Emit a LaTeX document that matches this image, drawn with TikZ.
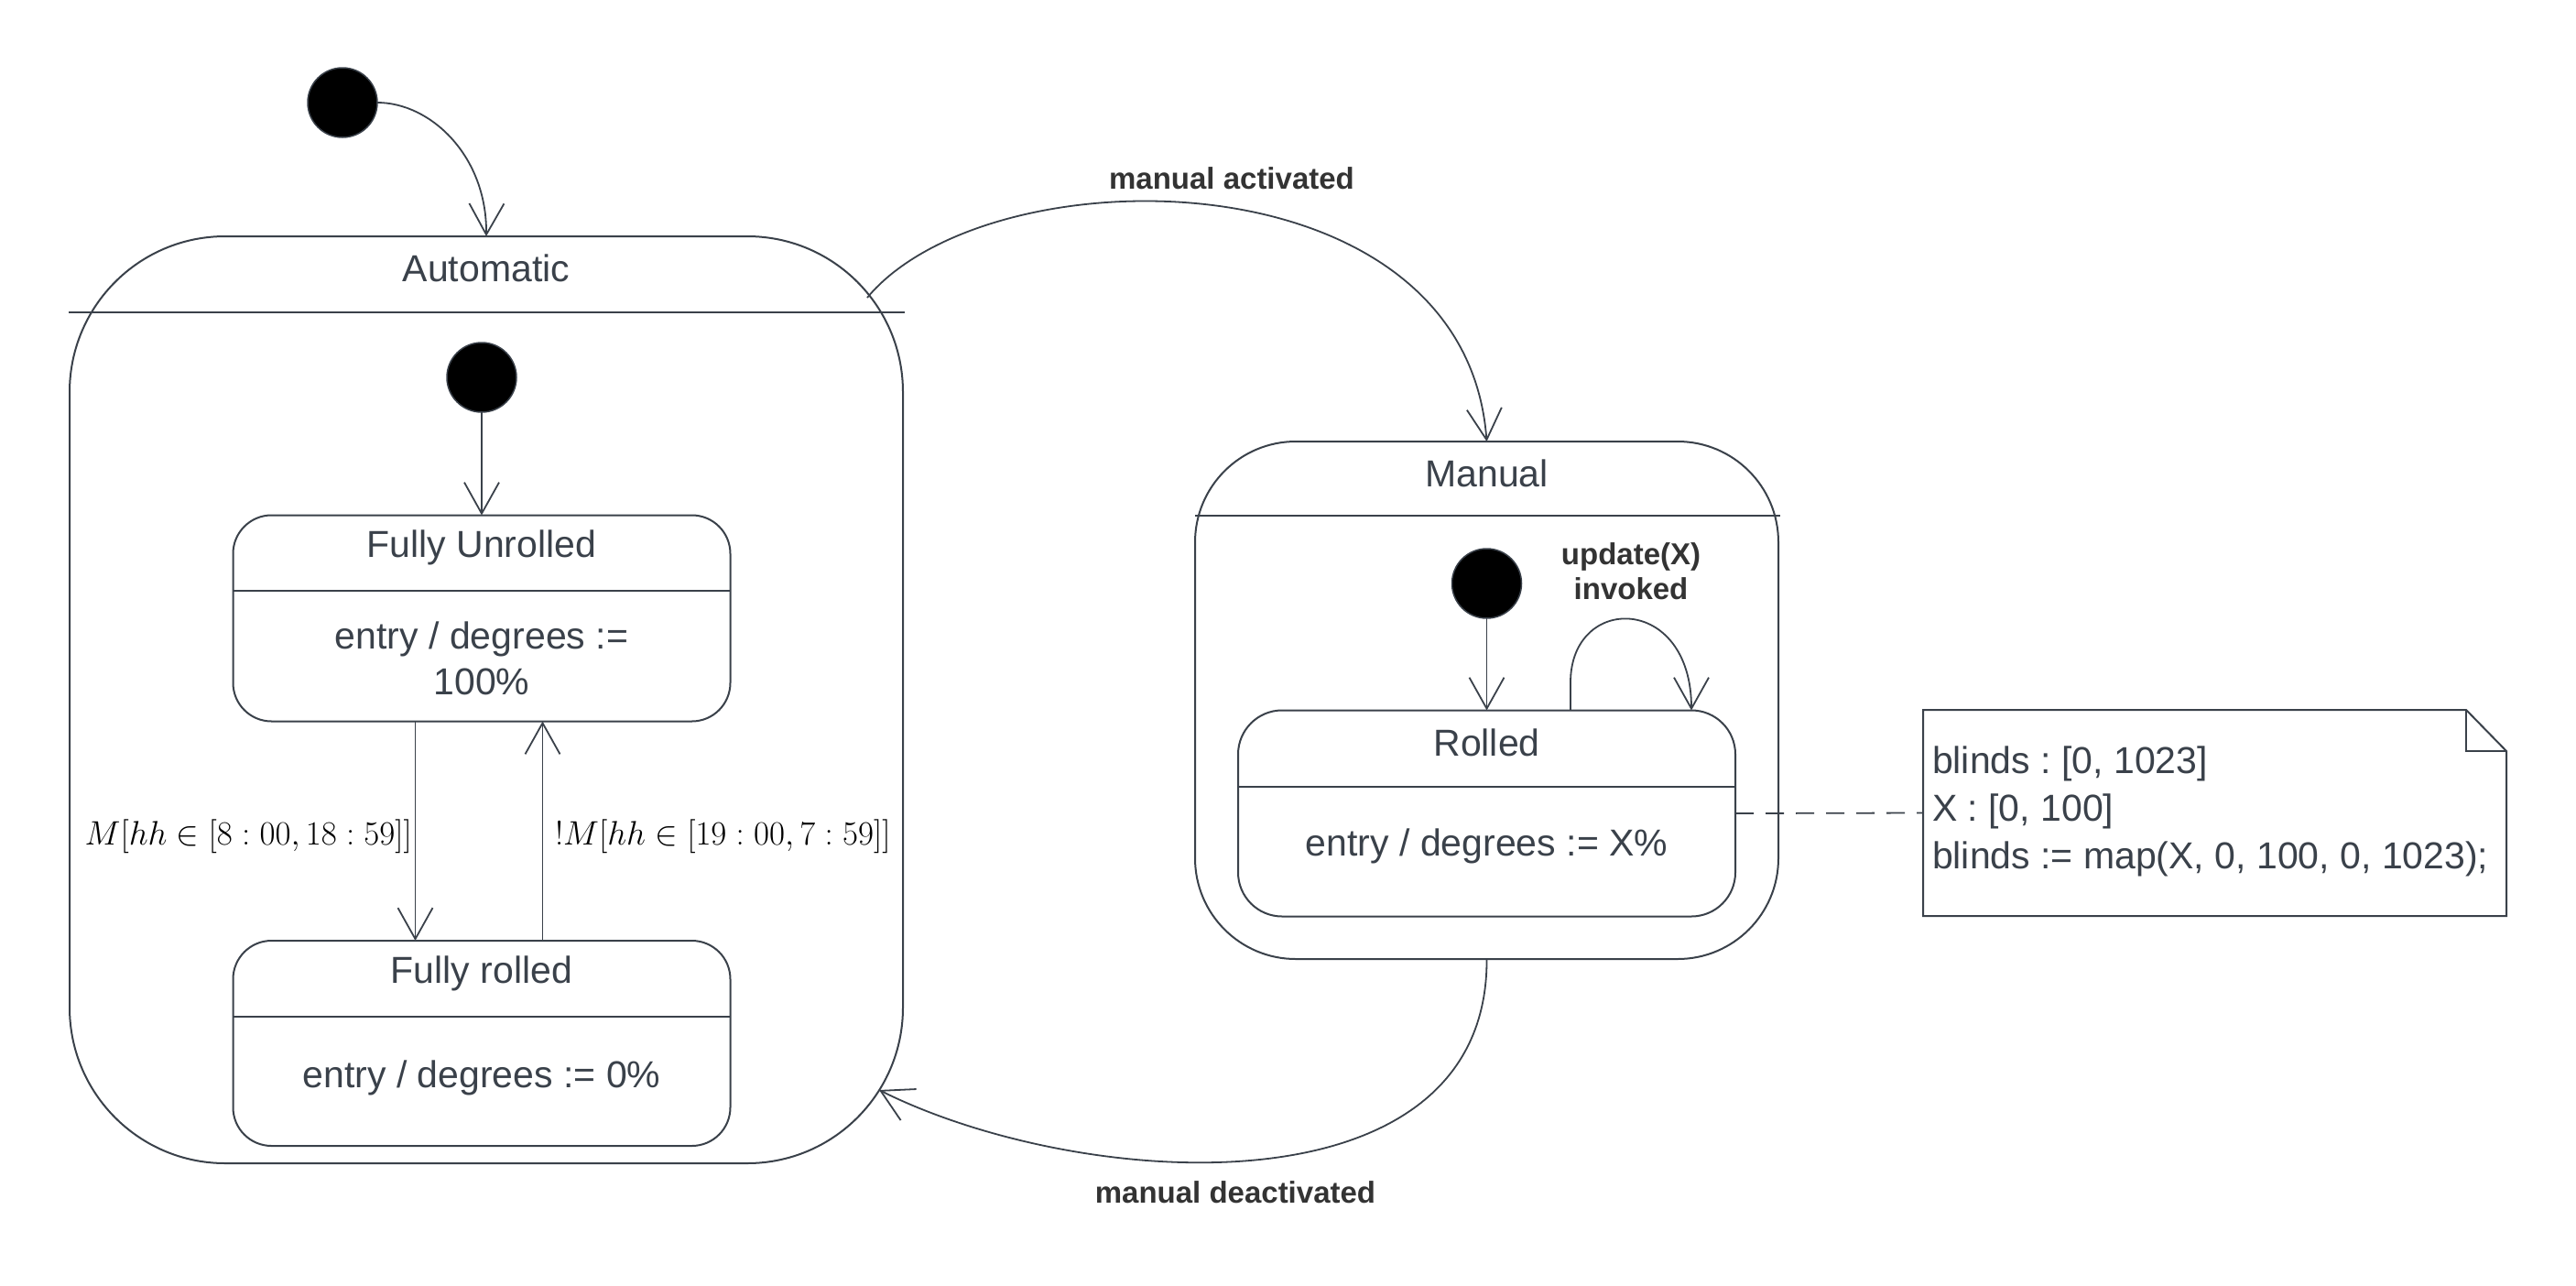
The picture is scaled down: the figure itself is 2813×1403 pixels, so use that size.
\RequirePackage{fix-cm}
\documentclass[tikz,border=0pt]{standalone}
\usepackage{fontspec}
\setmainfont{Liberation Sans}
\usetikzlibrary{arrows.meta}
\definecolor{ink}{RGB}{58,65,74}
\definecolor{lbl}{RGB}{51,51,51}
\frenchspacing
\begin{document}
\begin{tikzpicture}[x=1pt,y=-1pt,
  every node/.style={inner sep=0pt, outer sep=0pt},
  state/.style={draw=ink, line width=2pt, rectangle},
  sep/.style={draw=ink, line width=2pt},
  conn/.style={draw=ink, line width=1.8pt, -{Straight Barb[length=34pt,width=38pt]}},
  initdot/.style={circle, fill=black, draw=ink, line width=1.5pt, minimum size=76pt},
  title/.style={text=ink, font=\fontsize{41}{50}\selectfont},
  body/.style={text=ink, font=\fontsize{41}{50}\selectfont, align=center},
  evt/.style={text=lbl, font=\fontsize{33}{38}\selectfont\bfseries, align=center},
  guard/.style={text=black, font=\fontsize{37}{44}\selectfont},
]
\useasboundingbox (0,0) rectangle (2813,1403);

% ---------- Automatic ----------
\node[initdot] (dot0) at (374,112) {};
\node[state, minimum width=910pt, minimum height=1012pt, rounded corners=170pt] (auto) at (531,764) {};
\node[title] (autoT) at (531,293) {Automatic};
\coordinate (autoSL) at (75,341);
\coordinate (autoSR) at (988,341);
\draw[sep] (autoSL) -- (autoSR);

\node[initdot] (dotA) at (526,412) {};

\node[state, minimum width=543pt, minimum height=225pt, rounded corners=42pt] (fu) at (526,675) {};
\node[title] (fuT) at (526,598) {Fully Unrolled};
\draw[sep] (fu.west |- 0,645) -- (fu.east |- 0,645);
\node[body] (fuB) at (526,719) {entry / degrees :=\\100\%};

\node[state, minimum width=543pt, minimum height=224pt, rounded corners=42pt] (fr) at (526,1139) {};
\node[title] (frT) at (526,1063) {Fully rolled};
\draw[sep] (fr.west |- 0,1110) -- (fr.east |- 0,1110);
\node[body] (frB) at (526,1177) {entry / degrees := 0\%};

\coordinate (xa) at (453.5,900);
\coordinate (xb) at (592.5,900);
\draw[conn] (fu.south -| xa) -- (fr.north -| xa);
\draw[conn] (fr.north -| xb) -- (fu.south -| xb);
\node[guard, anchor=east] (g1) at (450,913) {$M[hh\in[8:00,18:59]]$};
\node[guard, anchor=west] (g2) at (606,913) {$!M[hh\in[19:00,7:59]]$};

% ---------- Manual ----------
\node[state, minimum width=637pt, minimum height=565pt, rounded corners=110pt] (man) at (1623.5,764.5) {};
\node[title] (manT) at (1623.5,517) {Manual};
\coordinate (manSL) at (1305,563);
\coordinate (manSR) at (1944,563);
\draw[sep] (manSL) -- (manSR);

\node[initdot] (dotM) at (1623.5,637) {};

\node[state, minimum width=543pt, minimum height=225pt, rounded corners=48pt] (rol) at (1623.5,888) {};
\node[title] (rolT) at (1623.5,811) {Rolled};
\draw[sep] (rol.west |- 0,859) -- (rol.east |- 0,859);
\node[body] (rolB) at (1623.5,924) {entry / degrees := X\%};

% ---------- Note ----------
\node[minimum width=637pt, minimum height=225pt] (note) at (2418.5,887.5) {};
\draw[ink, line width=2pt] (note.north west) -- ([xshift=-44pt]note.north east) -- ([yshift=-45pt]note.north east) -- (note.south east) -- (note.south west) -- cycle;
\draw[ink, line width=2pt] ([xshift=-44pt]note.north east) |- ([yshift=-45pt]note.north east);
\node[text=ink, font=\fontsize{41}{52}\selectfont, align=left, anchor=west] (noteT) at (2110,886)
  {blinds : [0, 1023]\\X : [0, 100]\\blinds := map(X, 0, 100, 0, 1023);};
\draw[ink, line width=1.8pt, dash pattern=on 20pt off 13pt] (rol.east) -- (note.west);

% ---------- connectors ----------
\draw[conn] (dot0.east) .. controls (470,112) and (532,170) .. (auto.north);
\draw[conn] (dotA.south) -- (fu.north);
\draw[conn] (dotM.south) -- (rol.north);

\coordinate (lpA) at (1715,900);
\coordinate (lpB) at (1847,900);
\draw[conn] (rol.north -| lpA) -- (1715,745) .. controls (1715,648) and (1847,648) .. (rol.north -| lpB);
\node[evt] (lpT) at (1781,624) {update(X)\\invoked};

\coordinate (aStart) at (947,325);
\draw[conn] (aStart) .. controls (1080,165) and (1600,165) .. (man.north);
\node[evt] (actT) at (1345,195) {manual activated};

\coordinate (aEnd) at (960,1190);
\draw[conn] (man.south) .. controls (1625,1330) and (1180,1300) .. (aEnd);
\node[evt] (deT) at (1349,1302) {manual deactivated};

\end{tikzpicture}
\end{document}
